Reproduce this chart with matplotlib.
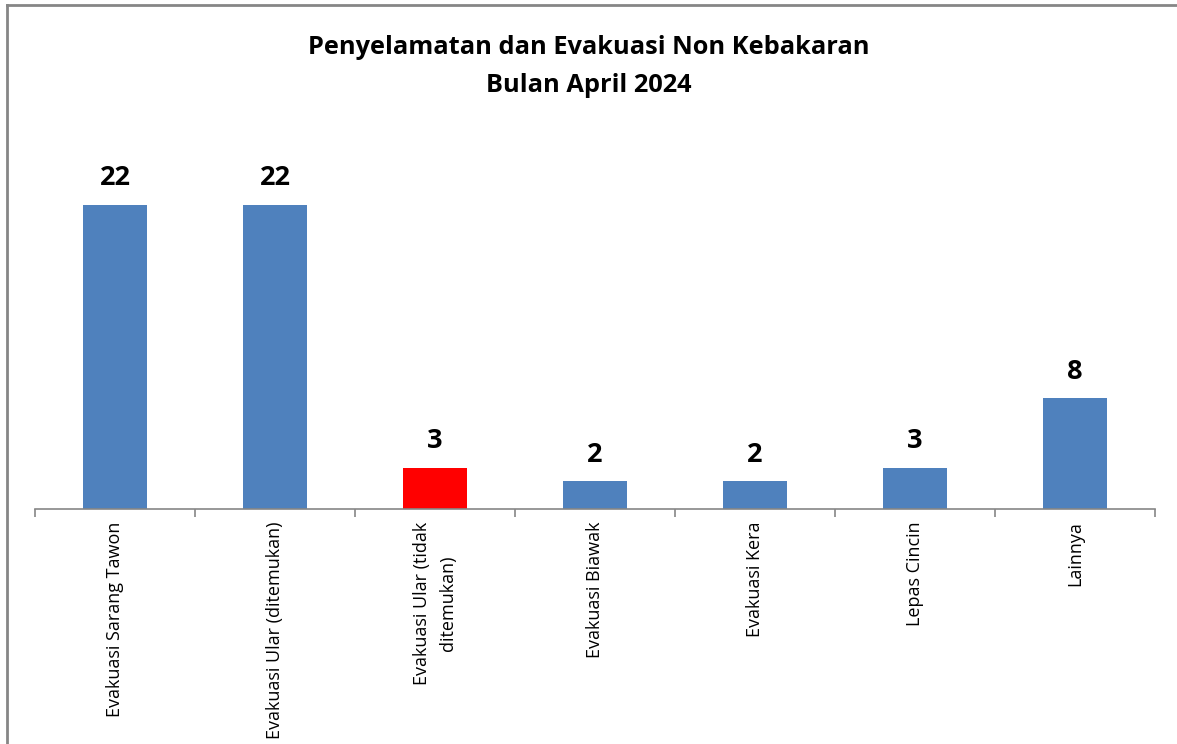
import matplotlib
matplotlib.use("Agg")
import matplotlib.pyplot as plt
from matplotlib.lines import Line2D
import numpy as np

categories = ["Evakuasi Sarang Tawon", "Evakuasi Ular (ditemukan)", "Evakuasi Ular (tidak\nditemukan)",
              "Evakuasi Biawak", "Evakuasi Kera", "Lepas Cincin", "Lainnya"]
values = [22, 22, 3, 2, 2, 3, 8]
colors = ["#4F81BD", "#4F81BD", "#FF0000", "#4F81BD", "#4F81BD", "#4F81BD", "#4F81BD"]
title = "Penyelamatan dan Evakuasi Non Kebakaran\nBulan April 2024"

plt.rcParams['font.family'] = ['Open Sans', 'DejaVu Sans']

W, H = 1177, 744
fig = plt.figure(figsize=(W / 100, H / 100), dpi=100)
ax = fig.add_axes([35 / W, (H - 509) / H, (1155 - 35) / W, (509 - 163.5) / H])

x = np.arange(len(categories))
ax.bar(x, values, width=0.4, color=colors)
for xi, v in zip(x, values):
    ax.text(xi, v + 1.0, str(v), ha="center", va="bottom", fontsize=19.5, fontweight="bold")

ax.set_xlim(-0.5, len(categories) - 0.5)
ax.set_ylim(0, 25)
ax.set_yticks([])
for s in ["top", "right", "left"]:
    ax.spines[s].set_visible(False)
ax.spines["bottom"].set_color("#868686")
ax.spines["bottom"].set_linewidth(1.2)

ax.set_xticks(x)
ax.set_xticklabels(categories, rotation=90, fontsize=13, va="top", ha="center", multialignment="center")
for lbl in ax.get_xticklabels():
    lbl.set_linespacing(1.55)
ax.tick_params(axis="x", which="major", length=0, pad=9)
ax.set_xticks(np.arange(-0.5, len(categories)), minor=True)
ax.tick_params(axis="x", which="minor", length=6, color="#868686", width=1.2)

fig.text(0.5, (H - 66.5) / H, title, ha="center", va="center", fontsize=18.3, fontweight="bold", linespacing=1.7)

# figure border (cropped frame)
fig.add_artist(Line2D([6.5 / W, 6.5 / W], [0, 1 - 4.5 / H], transform=fig.transFigure, color="#868686", lw=2))
fig.add_artist(Line2D([6.5 / W, 1], [1 - 4.5 / H, 1 - 4.5 / H], transform=fig.transFigure, color="#868686", lw=2))

fig.savefig("out.png", dpi=100)
